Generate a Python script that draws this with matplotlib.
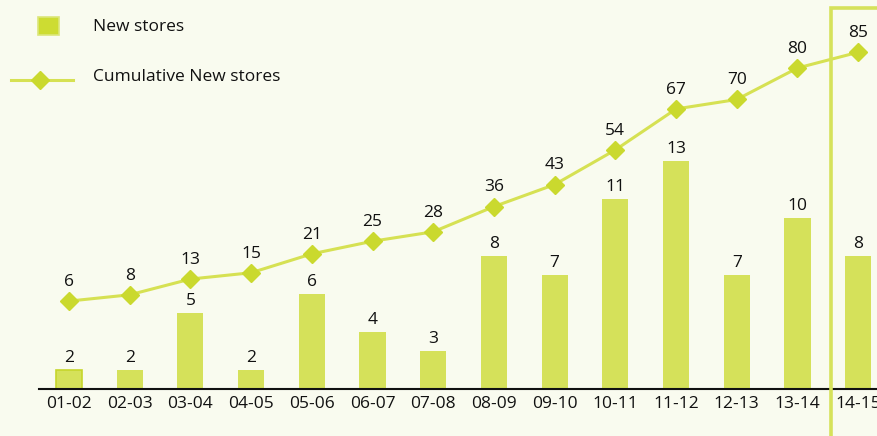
import matplotlib
matplotlib.use('Agg')
import matplotlib.pyplot as plt
from matplotlib.patches import Rectangle
from matplotlib.lines import Line2D
import matplotlib.transforms as mtransforms

periods = ["01-02", "02-03", "03-04", "04-05", "05-06", "06-07", "07-08",
           "08-09", "09-10", "10-11", "11-12", "12-13", "13-14", "14-15"]
new_stores = [2, 2, 5, 2, 6, 4, 3, 8, 7, 11, 13, 7, 10, 8]
cumulative = [6, 8, 13, 15, 21, 25, 28, 36, 43, 54, 67, 70, 80, 85]

BG = "#f9fbef"
BAR = "#d5e15a"
LINE = "#d6e153"
MARK = "#cad92e"

plt.rcParams['font.family'] = ['Open Sans', 'DejaVu Sans']

W, H = 877, 436
fig = plt.figure(figsize=(W / 100, H / 100), dpi=100, facecolor=BG)
ax = fig.add_axes([39 / W, (H - 389) / H, 1 - 39 / W, 389 / H])
ax.set_facecolor(BG)
ax2 = ax.twinx()

x = list(range(len(periods)))
bars = ax.bar(x, [v - 1 for v in new_stores], bottom=1, width=0.43, color=BAR, zorder=2)
bars[0].set_edgecolor("#c6d62c")
bars[0].set_linewidth(1.2)
for xi, v in zip(x, new_stores):
    ax.annotate(str(v), (xi, v), xytext=(0, 3), textcoords="offset points",
                ha="center", va="bottom", fontsize=12.5, color="#111111")

ax.set_xlim(-0.494, 13.31)
ax.set_ylim(1, 1 + 389 / 19)
ax2.set_ylim((320 - 389) / 3.15, 320 / 3.15)

ax2.plot(x, cumulative, color=LINE, lw=2.2, marker="D", ms=9.5,
         markerfacecolor=MARK, markeredgecolor=MARK, zorder=3)
for xi, v in zip(x, cumulative):
    ax2.annotate(str(v), (xi, v), xytext=(0, 8), textcoords="offset points",
                 ha="center", va="bottom", fontsize=12.5, color="#111111")

for a in (ax, ax2):
    for s in ("top", "right", "left"):
        a.spines[s].set_visible(False)
    a.set_yticks([])
ax2.spines["bottom"].set_visible(False)
ax.spines["bottom"].set_linewidth(1.5)
ax.spines["bottom"].set_color("#111111")
ax.set_xticks(x)
ax.set_xticklabels(periods, fontsize=12.5, color="#111111")
ax.tick_params(axis="x", length=0, pad=5)

# highlight box around last period
trans = mtransforms.blended_transform_factory(ax.transData, fig.transFigure)
hl = Rectangle((12.55, -0.1), 2, 1.1 - 8 / H, transform=trans, fill=False,
               edgecolor="#d6e25a", lw=2.6, clip_on=False, zorder=5)
fig.add_artist(hl)

# legend
fig.add_artist(Rectangle((38 / W, 1 - 35 / H), 21 / W, 18 / H, transform=fig.transFigure,
                         facecolor="#cddc32", edgecolor="#dbe67a", lw=1.2))
fig.text(93 / W, 1 - 27 / H, "New stores", fontsize=12.5, va="center", color="#111111")
fig.add_artist(Line2D([11 / W, 73 / W], [1 - 80 / H, 1 - 80 / H], transform=fig.transFigure,
                      color=LINE, lw=2.2))
fig.add_artist(Line2D([40 / W], [1 - 80 / H], transform=fig.transFigure, marker="D",
                      ms=9.5, color=MARK, lw=0))
fig.text(93 / W, 1 - 77 / H, "Cumulative New stores", fontsize=12.5, va="center", color="#111111")

fig.savefig("out.png", dpi=100, facecolor=BG)
